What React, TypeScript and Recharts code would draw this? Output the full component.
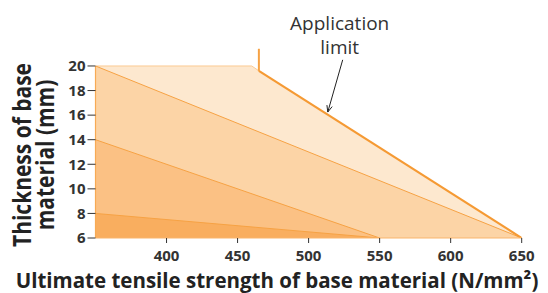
import React from 'react';
import { ComposedChart, Area, Line, XAxis, YAxis, ReferenceLine } from 'recharts';

const strengths = [350, 460, 465, 550, 650];
const limitZone = [20, 20, 19.6, null, 6];
const zone2 = [20, null, null, null, 6];
const zone3 = [14, null, null, 6, null];
const zone4 = [8, null, null, 6, null];
const limitLine = [null, null, 19.6, null, 6];
const xTicks = [400, 450, 500, 550, 600, 650];
const yTicks = [6, 8, 10, 12, 14, 16, 18, 20];
const markerX = 465;
const markerY = [19.6, 21.4];
const arrowFrom = { x: 524, y: 20.5 };
const arrowTo = { x: 513.5, y: 16.25 };

const data = strengths.map((x, i) => ({
  x,
  a: limitZone[i],
  b: zone2[i],
  c: zone3[i],
  d: zone4[i],
  lim: limitLine[i],
}));

const FONT = '"Open Sans", sans-serif';
const ORANGE = '#F6A244';

const ArrowShape = (props: any) => {
  const { x1, y1, x2, y2 } = props;
  const ang = Math.atan2(y2 - y1, x2 - x1);
  const L = 7;
  const w = 0.4;
  const p1x = x2 - L * Math.cos(ang - w);
  const p1y = y2 - L * Math.sin(ang - w);
  const p2x = x2 - L * Math.cos(ang + w);
  const p2y = y2 - L * Math.sin(ang + w);
  return (
    <g>
      <line x1={x1} y1={y1} x2={x2} y2={y2} stroke="#222" strokeWidth={1} />
      <path d={`M${p1x},${p1y} L${x2},${y2} L${p2x},${p2y}`} fill="none" stroke="#222" strokeWidth={1} />
      <text x={x1 - 3} y={y1 - 6} textAnchor="middle" fontFamily={FONT} fontSize={19} fill="#333">limit</text>
      <text x={x1 - 3} y={y1 - 30} textAnchor="middle" fontFamily={FONT} fontSize={19} fill="#333">Application</text>
    </g>
  );
};

const S = 1.15;

const XLabel = () => (
  <text x={277} y={288} textAnchor="middle" fontFamily={FONT} fontSize={20.5} fontWeight={700} fill="#222">
    Ultimate tensile strength of base material (N/mm²)
  </text>
);

const YLabel = () => (
  <text transform={`translate(0,155) scale(${S},1) rotate(-90)`} textAnchor="middle" fontFamily={FONT} fontSize={21} fontWeight={700} fill="#222">
    <tspan x={0} y={31 / S}>Thickness of base</tspan>
    <tspan x={0} y={54 / S}>material (mm)</tspan>
  </text>
);

export default function App() {
  return (
    <div style={{ margin: '-8px 0 0 -8px', width: 548, height: 293 }}>
      <ComposedChart
        width={548}
        height={293}
        data={data}
        margin={{ top: 41.4, right: 26.3, left: 0, bottom: 0 }}
      >
        <XAxis
          type="number"
          dataKey="x"
          domain={[350, 650]}
          ticks={xTicks}
          allowDataOverflow
          height={55}
          axisLine={{ stroke: '#F9B56C' }}
          tickLine={{ stroke: '#333' }}
          tickSize={5}
          tickMargin={7}
          tick={{ fontFamily: FONT, fontSize: 15, fontWeight: 700, fill: '#333' }}
          label={<XLabel />}
        />
        <YAxis
          type="number"
          domain={[6, 22]}
          ticks={yTicks}
          allowDataOverflow
          width={95.5}
          axisLine={false}
          tickLine={{ stroke: '#333' }}
          tickSize={8}
          tickMargin={2}
          tick={{ fontFamily: FONT, fontSize: 15, fontWeight: 700, fill: '#333' }}
          label={<YLabel />}
        />
        <Area type="linear" dataKey="a" connectNulls fill="#FDE8CF" fillOpacity={1} stroke="#FBCB94" strokeWidth={1} isAnimationActive={false} />
        <Area type="linear" dataKey="b" connectNulls fill="#FCD4A6" fillOpacity={1} stroke={ORANGE} strokeWidth={1} isAnimationActive={false} />
        <Area type="linear" dataKey="c" connectNulls fill="#FBC184" fillOpacity={1} stroke={ORANGE} strokeWidth={1} isAnimationActive={false} />
        <Area type="linear" dataKey="d" connectNulls fill="#F9AE5F" fillOpacity={1} stroke={ORANGE} strokeWidth={1} isAnimationActive={false} />
        <Line type="linear" dataKey="lim" connectNulls stroke="#F59A34" strokeWidth={2.2} dot={false} isAnimationActive={false} />
        <ReferenceLine
          segment={[{ x: 350, y: 6 }, { x: 350, y: 20 }]}
          stroke="#F7AA55"
          strokeWidth={1.2}
        />
        <ReferenceLine
          segment={[{ x: markerX, y: markerY[0] }, { x: markerX, y: markerY[1] }]}
          stroke="#F6A244"
          strokeWidth={2}
        />
        <ReferenceLine
          segment={[arrowFrom, arrowTo]}
          shape={ArrowShape}
        />
      </ComposedChart>
    </div>
  );
}
